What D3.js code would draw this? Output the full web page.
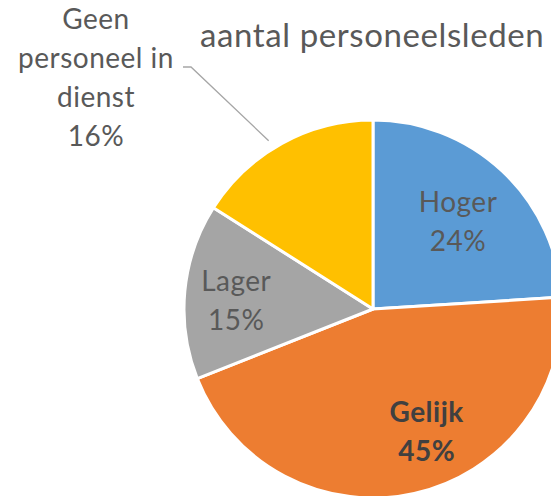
<!DOCTYPE html>
<html>
<head>
<meta charset="utf-8">
<script src="https://cdn.jsdelivr.net/npm/d3@7"></script>
<style>
  body { margin: 0; background: #fff; }
  svg { display: block; }
</style>
</head>
<body>
<svg id="chart" width="551" height="496"></svg>
<script>
// share of each category, clockwise from 12 o'clock
const categories = ['Hoger', 'Gelijk', 'Lager', 'Geen personeel in dienst'];
const shares = [24, 45, 15, 16];
const labelLines = [['Hoger', '24%'], ['Gelijk', '45%'], ['Lager', '15%'], ['Geen', 'personeel in', 'dienst', '16%']];
const colors = ['#5B9BD5', '#ED7D31', '#A5A5A5', '#FFC000'];
const title = 'aantal personeelsleden';

const svg = d3.select('#chart');
const font = 'Lato, "Liberation Sans", sans-serif';

const cx = 373, cy = 309, radius = 189;

const pie = d3.pie().sort(null).value((d) => d)(shares);
const arc = d3.arc().innerRadius(0).outerRadius(radius);

const g = svg.append('g').attr('transform', `translate(${cx}, ${cy})`);

g.selectAll('path')
  .data(pie)
  .enter()
  .append('path')
  .attr('d', arc)
  .attr('fill', (d, i) => colors[i])
  .attr('stroke', '#fff')
  .attr('stroke-width', 3)
  .attr('stroke-linejoin', 'round');

// inside labels: radius and angle nudge per slice (Excel doesn't sit them on the centroid)
const labelR = [122, 134, 137];
const labelNudge = [1, -11, -2]; // degrees
const lineH = 39;

pie.slice(0, 3).forEach((d, i) => {
  const a = (d.startAngle + d.endAngle) / 2 + labelNudge[i] * Math.PI / 180;
  const x = Math.sin(a) * labelR[i];
  const y = -Math.cos(a) * labelR[i];
  const t = g.append('text')
    .attr('text-anchor', 'middle')
    .attr('font-family', font)
    .attr('font-size', 28)
    .attr('letter-spacing', 0.5)
    .attr('font-weight', i === 1 ? 'bold' : 'normal')
    .attr('fill', i === 1 ? '#404040' : '#595959');
  labelLines[i].forEach((s, j) => {
    t.append('tspan')
      .attr('x', x)
      .attr('y', y + (j - (labelLines[i].length - 1) / 2) * lineH)
      .attr('dy', '0.35em')
      .text(s);
  });
});

// outside label for the last slice, with a leader line
const last = pie[3];
const midA = (last.startAngle + last.endAngle) / 2 - 3 * Math.PI / 180;
const tip = [Math.sin(midA) * (radius + 9), -Math.cos(midA) * (radius + 9)];
const outX = 96 - cx, outTop = 19 - cy;

g.append('polyline')
  .attr('points', [[183 - cx, 67 - cy], [191 - cx, 67 - cy], tip].map((p) => p.join(',')).join(' '))
  .attr('fill', 'none')
  .attr('stroke', '#A6A6A6')
  .attr('stroke-width', 1.3);

const t3 = g.append('text')
  .attr('text-anchor', 'middle')
  .attr('font-family', font)
  .attr('font-size', 28)
  .attr('letter-spacing', 0.5)
  .attr('fill', '#595959');
labelLines[3].forEach((s, j) => {
  t3.append('tspan')
    .attr('x', outX)
    .attr('y', outTop + j * lineH)
    .attr('dy', '0.35em')
    .text(s);
});

svg.append('text')
  .attr('x', 200)
  .attr('y', 47)
  .attr('text-anchor', 'start')
  .attr('font-family', font)
  .attr('font-size', 33)
  .attr('letter-spacing', 0.6)
  .attr('fill', '#595959')
  .text(title);
</script>
</body>
</html>
